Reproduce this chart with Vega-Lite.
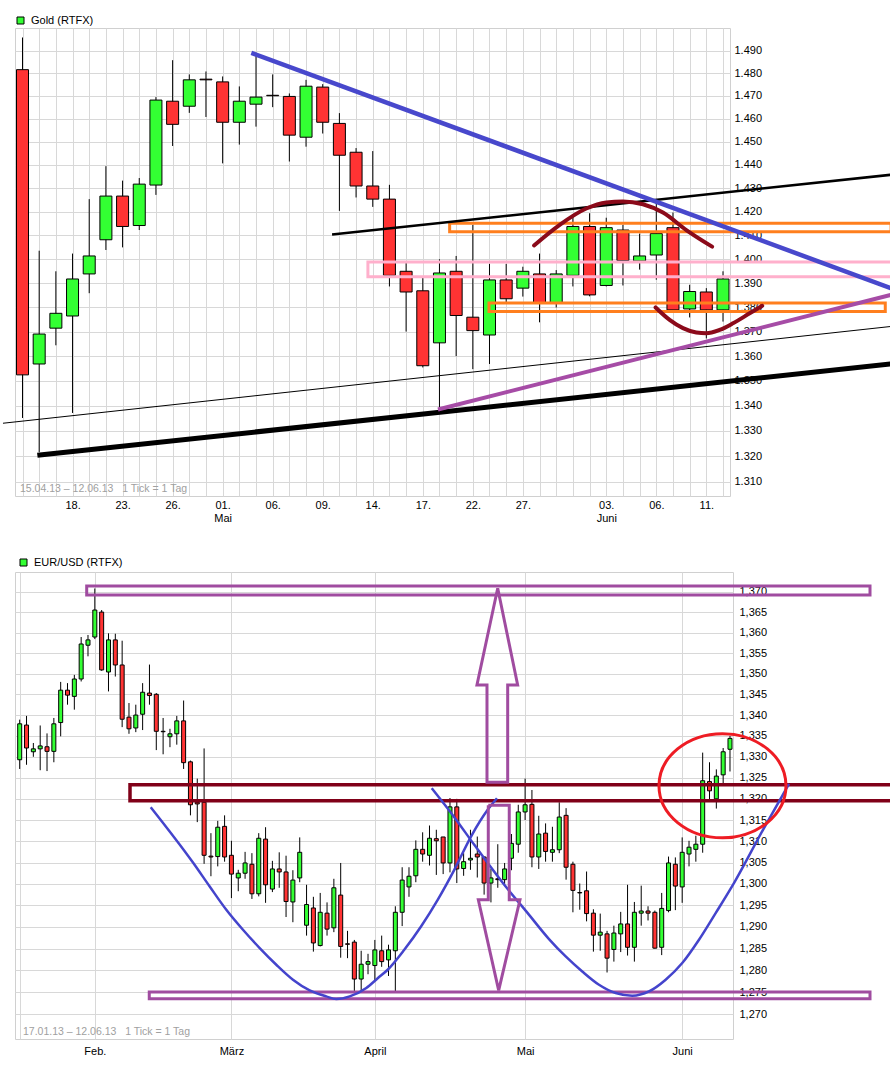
{
  "$schema": "https://vega.github.io/schema/vega-lite/v6.json",
  "background": "white",
  "padding": {"top": 14, "left": 0, "right": 0, "bottom": 0},
  "bounds": "flush",
  "spacing": 76,
  "resolve": {"scale": {"color": "independent"}, "legend": {"color": "independent"}},
  "datasets": {
    "gold": [
      {"i":0,"o":1481.5,"h":1495.8,"l":1335.1,"c":1352.4},
      {"i":1,"o":1356.8,"h":1403.5,"l":1321.6,"c":1369.0},
      {"i":2,"o":1371.4,"h":1394.9,"l":1364.4,"c":1377.5},
      {"i":3,"o":1376.4,"h":1402.3,"l":1337.1,"c":1391.7},
      {"i":4,"o":1393.8,"h":1425.3,"l":1385.8,"c":1401.3},
      {"i":5,"o":1408.1,"h":1439.4,"l":1403.8,"c":1426.6},
      {"i":6,"o":1426.6,"h":1433.2,"l":1404.9,"c":1413.7},
      {"i":7,"o":1414.1,"h":1434.3,"l":1412.2,"c":1431.7},
      {"i":8,"o":1431.3,"h":1469.4,"l":1427.1,"c":1468.1},
      {"i":9,"o":1467.6,"h":1485.7,"l":1448.1,"c":1457.5},
      {"i":10,"o":1465.4,"h":1479.4,"l":1462.5,"c":1477.0},
      {"i":11,"o":1477.3,"h":1480.7,"l":1460.7,"c":1477.0},
      {"i":12,"o":1476.1,"h":1478.5,"l":1440.6,"c":1458.4},
      {"i":13,"o":1458.4,"h":1474.1,"l":1448.7,"c":1467.6},
      {"i":14,"o":1466.3,"h":1489.0,"l":1456.5,"c":1469.4},
      {"i":15,"o":1470.2,"h":1479.4,"l":1465.0,"c":1470.0},
      {"i":16,"o":1469.7,"h":1471.0,"l":1441.4,"c":1452.8},
      {"i":17,"o":1451.9,"h":1477.0,"l":1447.8,"c":1474.2},
      {"i":18,"o":1473.8,"h":1475.1,"l":1453.5,"c":1458.4},
      {"i":19,"o":1457.9,"h":1462.4,"l":1420.3,"c":1444.1},
      {"i":20,"o":1445.4,"h":1447.2,"l":1426.0,"c":1430.9},
      {"i":21,"o":1430.9,"h":1445.9,"l":1422.0,"c":1425.3},
      {"i":22,"o":1425.3,"h":1431.4,"l":1388.6,"c":1393.2},
      {"i":23,"o":1394.9,"h":1398.5,"l":1370.0,"c":1386.3},
      {"i":24,"o":1386.8,"h":1392.1,"l":1355.4,"c":1356.1},
      {"i":25,"o":1365.4,"h":1399.9,"l":1338.2,"c":1394.2},
      {"i":26,"o":1394.9,"h":1401.3,"l":1360.0,"c":1376.6},
      {"i":27,"o":1375.9,"h":1414.4,"l":1354.7,"c":1370.4},
      {"i":28,"o":1368.6,"h":1398.0,"l":1356.8,"c":1391.3},
      {"i":29,"o":1391.3,"h":1398.0,"l":1381.7,"c":1383.5},
      {"i":30,"o":1387.9,"h":1396.8,"l":1384.4,"c":1394.9},
      {"i":31,"o":1393.8,"h":1402.3,"l":1373.8,"c":1381.9},
      {"i":32,"o":1381.9,"h":1395.4,"l":1379.9,"c":1393.8},
      {"i":33,"o":1393.2,"h":1418.8,"l":1388.6,"c":1413.7},
      {"i":34,"o":1413.7,"h":1419.3,"l":1384.5,"c":1385.1},
      {"i":35,"o":1389.0,"h":1417.4,"l":1388.6,"c":1413.2},
      {"i":36,"o":1412.2,"h":1414.4,"l":1389.0,"c":1399.4},
      {"i":37,"o":1399.2,"h":1410.7,"l":1395.6,"c":1401.3},
      {"i":38,"o":1401.7,"h":1423.9,"l":1391.4,"c":1410.7},
      {"i":39,"o":1413.2,"h":1419.6,"l":1378.6,"c":1378.9},
      {"i":40,"o":1379.3,"h":1389.3,"l":1375.8,"c":1386.5},
      {"i":41,"o":1386.3,"h":1387.9,"l":1367.2,"c":1378.9},
      {"i":42,"o":1378.9,"h":1394.9,"l":1374.1,"c":1391.7}
    ],
    "gann": [
      {"id":"blue","k":0,"i":13.72,"v":1488.96},{"id":"blue","k":1,"i":52.07,"v":1387.9},
      {"id":"thin","k":0,"i":-1.17,"v":1333.0},{"id":"thin","k":1,"i":52.07,"v":1372.1},
      {"id":"thick","k":0,"i":0.89,"v":1320.3},{"id":"thick","k":1,"i":52.07,"v":1356.8},
      {"id":"med","k":0,"i":18.56,"v":1410.3},{"id":"med","k":1,"i":52.07,"v":1435.7},
      {"id":"purple","k":0,"i":24.91,"v":1338.5},{"id":"purple","k":1,"i":52.07,"v":1385.1},
      {"id":"arc1","k":0,"i":30.67,"v":1405.7},{"id":"arc1","k":1,"i":32.21,"v":1414.4},{"id":"arc1","k":2,"i":33.8,"v":1421.3},{"id":"arc1","k":3,"i":35.0,"v":1423.9},{"id":"arc1","k":4,"i":36.0,"v":1424.3},{"id":"arc1","k":5,"i":37.2,"v":1423.1},{"id":"arc1","k":6,"i":38.4,"v":1419.6},{"id":"arc1","k":7,"i":39.8,"v":1412.2},{"id":"arc1","k":8,"i":41.35,"v":1405.2},
      {"id":"arc2","k":0,"i":37.96,"v":1379.9},{"id":"arc2","k":1,"i":38.8,"v":1374.8},{"id":"arc2","k":2,"i":39.6,"v":1371.4},{"id":"arc2","k":3,"i":40.4,"v":1369.6},{"id":"arc2","k":4,"i":41.0,"v":1369.3},{"id":"arc2","k":5,"i":41.8,"v":1370.7},{"id":"arc2","k":6,"i":42.6,"v":1373.4},{"id":"arc2","k":7,"i":43.6,"v":1377.5},{"id":"arc2","k":8,"i":44.35,"v":1380.6},
      {"id":"pink","k":0,"i":52.07,"v":1398.8},{"id":"pink","k":1,"i":20.71,"v":1398.8},{"id":"pink","k":2,"i":20.71,"v":1392.6},{"id":"pink","k":3,"i":52.07,"v":1392.6}
    ],
    "grect": [
      {"id":"o1","i":25.61,"i2":52.08,"v":1411.5,"v2":1415.1},
      {"id":"o2","i":27.97,"i2":51.73,"v":1378.2,"v2":1381.7}
    ],
    "gleg": [{"name":"Gold (RTFX)"}],
    "gcap": [{"t":"15.04.13 – 12.06.13 \u00a0 1 Tick = 1 Tag"}],
    "eur": [
      {"i":0,"o":1.3293,"h":1.3389,"l":1.3271,"c":1.3379},
      {"i":1,"o":1.3376,"h":1.3398,"l":1.3281,"c":1.3321},
      {"i":2,"o":1.3312,"h":1.3333,"l":1.33,"c":1.3319},
      {"i":3,"o":1.3319,"h":1.3375,"l":1.3268,"c":1.3326},
      {"i":4,"o":1.3324,"h":1.3356,"l":1.3266,"c":1.3313},
      {"i":5,"o":1.3313,"h":1.3393,"l":1.3287,"c":1.3379},
      {"i":6,"o":1.3382,"h":1.348,"l":1.3349,"c":1.346},
      {"i":7,"o":1.346,"h":1.3477,"l":1.3425,"c":1.3448},
      {"i":8,"o":1.3445,"h":1.3497,"l":1.3413,"c":1.3487},
      {"i":9,"o":1.3487,"h":1.3589,"l":1.3481,"c":1.3572},
      {"i":10,"o":1.3569,"h":1.3594,"l":1.3542,"c":1.3582},
      {"i":11,"o":1.3589,"h":1.3708,"l":1.3584,"c":1.3655},
      {"i":12,"o":1.365,"h":1.3655,"l":1.3507,"c":1.3509},
      {"i":13,"o":1.3504,"h":1.3598,"l":1.3457,"c":1.3582},
      {"i":14,"o":1.3582,"h":1.3597,"l":1.3493,"c":1.3521},
      {"i":15,"o":1.3521,"h":1.358,"l":1.3371,"c":1.339},
      {"i":16,"o":1.3395,"h":1.3429,"l":1.3355,"c":1.3367},
      {"i":17,"o":1.3369,"h":1.3425,"l":1.3359,"c":1.34},
      {"i":18,"o":1.3402,"h":1.3477,"l":1.3364,"c":1.3455},
      {"i":19,"o":1.3453,"h":1.3522,"l":1.3425,"c":1.3447},
      {"i":20,"o":1.345,"h":1.3453,"l":1.3316,"c":1.3361},
      {"i":21,"o":1.3361,"h":1.3393,"l":1.3306,"c":1.336},
      {"i":22,"o":1.3348,"h":1.3367,"l":1.3323,"c":1.3355},
      {"i":23,"o":1.3355,"h":1.3398,"l":1.3329,"c":1.3386},
      {"i":24,"o":1.3386,"h":1.3435,"l":1.3271,"c":1.3286},
      {"i":25,"o":1.3288,"h":1.3291,"l":1.3161,"c":1.3186},
      {"i":26,"o":1.3192,"h":1.3248,"l":1.3145,"c":1.3188},
      {"i":27,"o":1.3192,"h":1.332,"l":1.3047,"c":1.3067},
      {"i":28,"o":1.3065,"h":1.3119,"l":1.3018,"c":1.3063},
      {"i":29,"o":1.3064,"h":1.3148,"l":1.3041,"c":1.3133},
      {"i":30,"o":1.3135,"h":1.3161,"l":1.3052,"c":1.3063},
      {"i":31,"o":1.3067,"h":1.3101,"l":1.2967,"c":1.3023},
      {"i":32,"o":1.3014,"h":1.3033,"l":1.2983,"c":1.3025},
      {"i":33,"o":1.3025,"h":1.3075,"l":1.3012,"c":1.3049},
      {"i":34,"o":1.3046,"h":1.3072,"l":1.2965,"c":1.2977},
      {"i":35,"o":1.2977,"h":1.3119,"l":1.2971,"c":1.3107},
      {"i":36,"o":1.3105,"h":1.3133,"l":1.2956,"c":1.2998},
      {"i":37,"o":1.2988,"h":1.3054,"l":1.2981,"c":1.3035},
      {"i":38,"o":1.3035,"h":1.3074,"l":1.2991,"c":1.3028},
      {"i":39,"o":1.3028,"h":1.3066,"l":1.2923,"c":1.2959},
      {"i":40,"o":1.2958,"h":1.3032,"l":1.2911,"c":1.3009},
      {"i":41,"o":1.3014,"h":1.3109,"l":1.3004,"c":1.3074},
      {"i":42,"o":1.2904,"h":1.2998,"l":1.288,"c":1.2952},
      {"i":43,"o":1.2944,"h":1.297,"l":1.2843,"c":1.2863},
      {"i":44,"o":1.2857,"h":1.2979,"l":1.2855,"c":1.2934},
      {"i":45,"o":1.2932,"h":1.2957,"l":1.288,"c":1.2895},
      {"i":46,"o":1.2898,"h":1.3012,"l":1.2888,"c":1.2991},
      {"i":47,"o":1.2974,"h":1.3049,"l":1.2829,"c":1.2855},
      {"i":48,"o":1.2861,"h":1.2891,"l":1.2828,"c":1.286},
      {"i":49,"o":1.2865,"h":1.287,"l":1.2752,"c":1.278},
      {"i":50,"o":1.278,"h":1.2845,"l":1.275,"c":1.2814},
      {"i":51,"o":1.2814,"h":1.2838,"l":1.2791,"c":1.282},
      {"i":52,"o":1.2811,"h":1.287,"l":1.2777,"c":1.2847},
      {"i":53,"o":1.2845,"h":1.288,"l":1.2808,"c":1.282},
      {"i":54,"o":1.2824,"h":1.2859,"l":1.2787,"c":1.2847},
      {"i":55,"o":1.2845,"h":1.2948,"l":1.2752,"c":1.2934},
      {"i":56,"o":1.2934,"h":1.3039,"l":1.2902,"c":1.3009},
      {"i":57,"o":1.2993,"h":1.3039,"l":1.297,"c":1.3018},
      {"i":58,"o":1.3019,"h":1.3102,"l":1.3004,"c":1.3081},
      {"i":59,"o":1.3081,"h":1.3121,"l":1.3052,"c":1.307},
      {"i":60,"o":1.3067,"h":1.3137,"l":1.3043,"c":1.3107},
      {"i":61,"o":1.3106,"h":1.3127,"l":1.3021,"c":1.3101},
      {"i":62,"o":1.311,"h":1.311,"l":1.3023,"c":1.3049},
      {"i":63,"o":1.3049,"h":1.3202,"l":1.3027,"c":1.3181},
      {"i":64,"o":1.3181,"h":1.32,"l":1.3002,"c":1.3035},
      {"i":65,"o":1.3036,"h":1.3072,"l":1.3019,"c":1.3052},
      {"i":66,"o":1.3056,"h":1.3127,"l":1.3033,"c":1.306},
      {"i":67,"o":1.307,"h":1.3111,"l":1.3015,"c":1.3063},
      {"i":68,"o":1.3063,"h":1.3064,"l":1.2975,"c":1.3002},
      {"i":69,"o":1.3002,"h":1.3035,"l":1.2957,"c":1.3014},
      {"i":70,"o":1.3012,"h":1.3093,"l":1.2991,"c":1.301},
      {"i":71,"o":1.301,"h":1.3049,"l":1.2998,"c":1.3035},
      {"i":72,"o":1.306,"h":1.3117,"l":1.3032,"c":1.3095},
      {"i":73,"o":1.3093,"h":1.3186,"l":1.3073,"c":1.3169},
      {"i":74,"o":1.3169,"h":1.3248,"l":1.315,"c":1.3186},
      {"i":75,"o":1.3187,"h":1.3221,"l":1.3039,"c":1.3063},
      {"i":76,"o":1.3063,"h":1.316,"l":1.3035,"c":1.3117},
      {"i":77,"o":1.3119,"h":1.3142,"l":1.3052,"c":1.3076},
      {"i":78,"o":1.3074,"h":1.3134,"l":1.3052,"c":1.308},
      {"i":79,"o":1.308,"h":1.3192,"l":1.3072,"c":1.3157},
      {"i":80,"o":1.3161,"h":1.3178,"l":1.301,"c":1.3039},
      {"i":81,"o":1.3046,"h":1.3052,"l":1.2934,"c":1.2985},
      {"i":82,"o":1.298,"h":1.3001,"l":1.294,"c":1.2979},
      {"i":83,"o":1.2984,"h":1.3029,"l":1.2913,"c":1.2931},
      {"i":84,"o":1.2932,"h":1.2941,"l":1.2843,"c":1.2881},
      {"i":85,"o":1.2881,"h":1.2931,"l":1.2845,"c":1.2888},
      {"i":86,"o":1.2884,"h":1.2891,"l":1.2795,"c":1.2828},
      {"i":87,"o":1.2848,"h":1.2903,"l":1.282,"c":1.2886},
      {"i":88,"o":1.2884,"h":1.2935,"l":1.2842,"c":1.2907},
      {"i":89,"o":1.2907,"h":1.2998,"l":1.2834,"c":1.2853},
      {"i":90,"o":1.2853,"h":1.2958,"l":1.282,"c":1.2934},
      {"i":91,"o":1.2932,"h":1.2996,"l":1.2903,"c":1.2937},
      {"i":92,"o":1.2937,"h":1.2948,"l":1.2915,"c":1.2932},
      {"i":93,"o":1.2934,"h":1.2938,"l":1.285,"c":1.2851},
      {"i":94,"o":1.2853,"h":1.2979,"l":1.2835,"c":1.2943},
      {"i":95,"o":1.2938,"h":1.3064,"l":1.2934,"c":1.3049},
      {"i":96,"o":1.3046,"h":1.3062,"l":1.2939,"c":1.2995},
      {"i":97,"o":1.2993,"h":1.3109,"l":1.2956,"c":1.3074},
      {"i":98,"o":1.307,"h":1.3101,"l":1.3041,"c":1.3086},
      {"i":99,"o":1.3081,"h":1.3113,"l":1.3052,"c":1.3093},
      {"i":100,"o":1.3093,"h":1.331,"l":1.3073,"c":1.3243},
      {"i":101,"o":1.3241,"h":1.3287,"l":1.3198,"c":1.3219},
      {"i":102,"o":1.32,"h":1.327,"l":1.3177,"c":1.3254},
      {"i":103,"o":1.3257,"h":1.3321,"l":1.3237,"c":1.3312},
      {"i":104,"o":1.3318,"h":1.335,"l":1.3265,"c":1.3344}
    ],
    "eann": [
      {"id":"dred","k":0,"i":127.6,"v":1.32335},{"id":"dred","k":1,"i":16.15,"v":1.32335},{"id":"dred","k":2,"i":16.15,"v":1.31955},{"id":"dred","k":3,"i":127.6,"v":1.31955},
      {"id":"u1","k":0,"i":19.18,"v":1.31803},{"id":"u1","k":1,"i":25.37,"v":1.305},{"id":"u1","k":2,"i":27.82,"v":1.2994},{"id":"u1","k":3,"i":30.25,"v":1.29398},{"id":"u1","k":4,"i":32.69,"v":1.28935},{"id":"u1","k":5,"i":35.14,"v":1.28512},{"id":"u1","k":6,"i":37.57,"v":1.28128},{"id":"u1","k":7,"i":40.01,"v":1.27784},{"id":"u1","k":8,"i":42.46,"v":1.27539},{"id":"u1","k":9,"i":44.89,"v":1.27402},{"id":"u1","k":10,"i":46.35,"v":1.27342},{"id":"u1","k":11,"i":48.32,"v":1.27402},{"id":"u1","k":12,"i":50.75,"v":1.27594},{"id":"u1","k":13,"i":52.46,"v":1.27823},{"id":"u1","k":14,"i":53.88,"v":1.28013},{"id":"u1","k":15,"i":56.31,"v":1.28473},{"id":"u1","k":16,"i":58.76,"v":1.29011},{"id":"u1","k":17,"i":61.2,"v":1.2963},{"id":"u1","k":18,"i":63.63,"v":1.3033},{"id":"u1","k":19,"i":66.08,"v":1.3111},{"id":"u1","k":20,"i":68.52,"v":1.3174},{"id":"u1","k":21,"i":69.88,"v":1.32016},
      {"id":"u2","k":0,"i":60.32,"v":1.32253},{"id":"u2","k":1,"i":63.63,"v":1.31567},{"id":"u2","k":2,"i":66.56,"v":1.30915},{"id":"u2","k":3,"i":70.95,"v":1.29979},{"id":"u2","k":4,"i":74.38,"v":1.29321},{"id":"u2","k":5,"i":77.5,"v":1.2872},{"id":"u2","k":6,"i":79.94,"v":1.28319},{"id":"u2","k":7,"i":82.37,"v":1.27974},{"id":"u2","k":8,"i":84.82,"v":1.27669},{"id":"u2","k":9,"i":87.26,"v":1.27479},{"id":"u2","k":10,"i":89.69,"v":1.27418},{"id":"u2","k":11,"i":92.14,"v":1.27516},{"id":"u2","k":12,"i":94.58,"v":1.27784},{"id":"u2","k":13,"i":97.01,"v":1.28167},{"id":"u2","k":14,"i":99.46,"v":1.28704},{"id":"u2","k":15,"i":101.9,"v":1.29321},{"id":"u2","k":16,"i":104.58,"v":1.30019},{"id":"u2","k":17,"i":108.83,"v":1.31268},{"id":"u2","k":18,"i":112.64,"v":1.32355},
      {"id":"up","k":0,"i":69.99,"v":1.37084},{"id":"up","k":1,"i":72.91,"v":1.34727},{"id":"up","k":2,"i":71.45,"v":1.34727},{"id":"up","k":3,"i":71.45,"v":1.32396},{"id":"up","k":4,"i":68.42,"v":1.32396},{"id":"up","k":5,"i":68.42,"v":1.34727},{"id":"up","k":6,"i":66.95,"v":1.34727},{"id":"up","k":7,"i":69.99,"v":1.37084},
      {"id":"down","k":0,"i":68.61,"v":1.31851},{"id":"down","k":1,"i":71.68,"v":1.31851},{"id":"down","k":2,"i":71.68,"v":1.2963},{"id":"down","k":3,"i":73.25,"v":1.2963},{"id":"down","k":4,"i":70.13,"v":1.27539},{"id":"down","k":5,"i":67.15,"v":1.2963},{"id":"down","k":6,"i":68.61,"v":1.2963},{"id":"down","k":7,"i":68.61,"v":1.31851},
      {"id":"ell","k":0,"i":102.9,"v":1.32311}
    ],
    "erect": [
      {"id":"p1","i":9.81,"i2":124.5,"v":1.3692,"v2":1.3714},
      {"id":"p2","i":18.97,"i2":124.5,"v":1.27349,"v2":1.27502}
    ],
    "eleg": [{"name":"EUR/USD (RTFX)"}],
    "ecap": [{"t":"17.01.13 – 12.06.13 \u00a0 1 Tick = 1 Tag"}]
  },
  "vconcat": [
    {
      "width": 715,
      "height": 468,
      "layer": [
        {
          "data": {"name": "gold"},
          "mark": {"type": "rule", "color": "black", "strokeWidth": 1},
          "encoding": {
            "x": {"field": "i", "type": "quantitative", "scale": {"domain": [-0.45, 42.42], "nice": false, "zero": false, "padding": 0},
              "axis": {"orient": "bottom", "title": null, "tickCount": 500, "values": [0,1,2,3,4,5,6,7,8,9,10,11,12,13,14,15,16,17,18,19,20,21,22,23,24,25,26,27,28,29,30,31,32,33,34,35,36,37,38,39,40,41,42],
                "labelExpr": "datum.value==3?'18.':datum.value==6?'23.':datum.value==9?'26.':datum.value==12?['01.','Mai']:datum.value==15?'06.':datum.value==18?'09.':datum.value==21?'14.':datum.value==24?'17.':datum.value==27?'22.':datum.value==30?'27.':datum.value==35?['03.','Juni']:datum.value==38?'06.':datum.value==41?'11.':''",
                "grid": true, "ticks": false, "domain": false, "labelPadding": 3, "labelOverlap": false, "labelFlush": false, "labelBound": false, "labelLineHeight": 13, "labelBaseline": "top"}},
            "y": {"field": "l", "type": "quantitative", "scale": {"type": "log", "domain": [1304.34, 1500.05], "nice": false, "zero": false},
              "axis": {"orient": "right", "title": null, "tickCount": 500, "values": [1310,1320,1330,1340,1350,1360,1370,1380,1390,1400,1410,1420,1430,1440,1450,1460,1470,1480,1490],
                "labelExpr": "replace(format(datum.value, ',.0f'), ',', '.')",
                "grid": true, "ticks": false, "domain": false, "labelPadding": 4, "labelOverlap": false, "labelBound": false}},
            "y2": {"field": "h"}
          }
        },
        {
          "data": {"name": "gold"},
          "mark": {"type": "bar", "width": 12, "stroke": "black", "strokeWidth": 1},
          "encoding": {
            "x": {"field": "i", "type": "quantitative", "scale": {"domain": [-0.45, 42.42], "nice": false, "zero": false, "padding": 0}},
            "y": {"field": "o", "type": "quantitative", "scale": {"type": "log", "domain": [1304.34, 1500.05], "nice": false, "zero": false}},
            "y2": {"field": "c"},
            "fill": {"condition": {"test": "datum.c >= datum.o", "value": "#33ff33"}, "value": "#ff3333"}
          }
        },
        {
          "data": {"name": "grect"},
          "mark": {"type": "rect", "filled": false, "stroke": "#ff7f1e", "strokeWidth": 3},
          "encoding": {
            "x": {"field": "i", "type": "quantitative", "scale": {"domain": [-0.45, 42.42], "nice": false, "zero": false, "padding": 0}},
            "x2": {"field": "i2"},
            "y": {"field": "v", "type": "quantitative", "scale": {"type": "log", "domain": [1304.34, 1500.05], "nice": false, "zero": false}},
            "y2": {"field": "v2"}
          }
        },
        {
          "data": {"name": "gann"},
          "transform": [{"filter": "datum.id == 'pink'"}],
          "mark": {"type": "line", "color": "#ffb0cc", "strokeWidth": 3},
          "encoding": {
            "x": {"field": "i", "type": "quantitative", "scale": {"domain": [-0.45, 42.42], "nice": false, "zero": false, "padding": 0}},
            "y": {"field": "v", "type": "quantitative", "scale": {"type": "log", "domain": [1304.34, 1500.05], "nice": false, "zero": false}},
            "order": {"field": "k"}
          }
        },
        {
          "data": {"name": "gann"},
          "transform": [{"filter": "datum.id == 'thin'"}],
          "mark": {"type": "line", "color": "black", "strokeWidth": 1},
          "encoding": {
            "x": {"field": "i", "type": "quantitative", "scale": {"domain": [-0.45, 42.42], "nice": false, "zero": false, "padding": 0}},
            "y": {"field": "v", "type": "quantitative", "scale": {"type": "log", "domain": [1304.34, 1500.05], "nice": false, "zero": false}},
            "order": {"field": "k"}
          }
        },
        {
          "data": {"name": "gann"},
          "transform": [{"filter": "datum.id == 'thick'"}],
          "mark": {"type": "line", "color": "black", "strokeWidth": 5},
          "encoding": {
            "x": {"field": "i", "type": "quantitative", "scale": {"domain": [-0.45, 42.42], "nice": false, "zero": false, "padding": 0}},
            "y": {"field": "v", "type": "quantitative", "scale": {"type": "log", "domain": [1304.34, 1500.05], "nice": false, "zero": false}},
            "order": {"field": "k"}
          }
        },
        {
          "data": {"name": "gann"},
          "transform": [{"filter": "datum.id == 'med'"}],
          "mark": {"type": "line", "color": "black", "strokeWidth": 2.5},
          "encoding": {
            "x": {"field": "i", "type": "quantitative", "scale": {"domain": [-0.45, 42.42], "nice": false, "zero": false, "padding": 0}},
            "y": {"field": "v", "type": "quantitative", "scale": {"type": "log", "domain": [1304.34, 1500.05], "nice": false, "zero": false}},
            "order": {"field": "k"}
          }
        },
        {
          "data": {"name": "gann"},
          "transform": [{"filter": "datum.id == 'purple'"}],
          "mark": {"type": "line", "color": "#a64ca6", "strokeWidth": 4},
          "encoding": {
            "x": {"field": "i", "type": "quantitative", "scale": {"domain": [-0.45, 42.42], "nice": false, "zero": false, "padding": 0}},
            "y": {"field": "v", "type": "quantitative", "scale": {"type": "log", "domain": [1304.34, 1500.05], "nice": false, "zero": false}},
            "order": {"field": "k"}
          }
        },
        {
          "data": {"name": "gann"},
          "transform": [{"filter": "datum.id == 'blue'"}],
          "mark": {"type": "line", "color": "#4848cc", "strokeWidth": 4.5},
          "encoding": {
            "x": {"field": "i", "type": "quantitative", "scale": {"domain": [-0.45, 42.42], "nice": false, "zero": false, "padding": 0}},
            "y": {"field": "v", "type": "quantitative", "scale": {"type": "log", "domain": [1304.34, 1500.05], "nice": false, "zero": false}},
            "order": {"field": "k"}
          }
        },
        {
          "data": {"name": "gann"},
          "transform": [{"filter": "datum.id == 'arc1' || datum.id == 'arc2'"}],
          "mark": {"type": "line", "color": "#8b0a1a", "strokeWidth": 4, "interpolate": "monotone", "strokeCap": "round"},
          "encoding": {
            "x": {"field": "i", "type": "quantitative", "scale": {"domain": [-0.45, 42.42], "nice": false, "zero": false, "padding": 0}},
            "y": {"field": "v", "type": "quantitative", "scale": {"type": "log", "domain": [1304.34, 1500.05], "nice": false, "zero": false}},
            "detail": {"field": "id"},
            "order": {"field": "k"}
          }
        },
        {
          "data": {"name": "gcap"},
          "mark": {"type": "text", "align": "left", "baseline": "middle", "color": "#a0a0a0", "fontSize": 10.5},
          "encoding": {
            "x": {"datum": -0.15, "type": "quantitative", "scale": {"domain": [-0.45, 42.42], "nice": false, "zero": false, "padding": 0}},
            "y": {"datum": 1307.1, "type": "quantitative", "scale": {"type": "log", "domain": [1304.34, 1500.05], "nice": false, "zero": false}},
            "text": {"field": "t"}
          }
        },
        {
          "data": {"name": "gleg"},
          "mark": {"type": "rect"},
          "encoding": {
            "x": {"datum": 0, "type": "quantitative", "scale": {"domain": [-0.45, 42.42], "nice": false, "zero": false, "padding": 0}},
            "x2": {"datum": 0},
            "y": {"datum": 1400, "type": "quantitative", "scale": {"type": "log", "domain": [1304.34, 1500.05], "nice": false, "zero": false}},
            "y2": {"datum": 1400},
            "color": {"field": "name", "type": "nominal", "scale": {"range": ["#33ff33"]},
              "legend": {"title": null, "orient": "none", "legendX": 0, "legendY": -13, "symbolType": "square", "symbolSize": 49, "symbolStrokeColor": "black", "symbolStrokeWidth": 1, "labelFontSize": 11, "labelColor": "black", "labelOffset": 5, "padding": 0}}
          }
        }
      ]
    },
    {
      "width": 718,
      "height": 467,
      "layer": [
        {
          "data": {"name": "eur"},
          "mark": {"type": "rule", "color": "black", "strokeWidth": 1},
          "encoding": {
            "x": {"field": "i", "type": "quantitative", "scale": {"domain": [-0.688, 104.44], "nice": false, "zero": false, "padding": 0},
              "axis": {"orient": "bottom", "title": null, "tickCount": 500, "values": [0, 11, 31, 52, 74, 97],
                "labelExpr": "datum.value==11?'Feb.':datum.value==31?'März':datum.value==52?'April':datum.value==74?'Mai':datum.value==97?'Juni':''",
                "grid": true, "ticks": false, "domain": false, "labelPadding": 6, "labelOverlap": false, "labelFlush": false, "labelBound": false}},
            "y": {"field": "l", "type": "quantitative", "scale": {"type": "log", "domain": [1.26432, 1.37485], "nice": false, "zero": false},
              "axis": {"orient": "right", "title": null, "tickCount": 500, "values": [1.27,1.275,1.28,1.285,1.29,1.295,1.3,1.305,1.31,1.315,1.32,1.325,1.33,1.335,1.34,1.345,1.35,1.355,1.36,1.365,1.37],
                "labelExpr": "replace(format(datum.value, '.3f'), '.', ',')",
                "grid": true, "ticks": false, "domain": false, "labelPadding": 6, "labelOverlap": false, "labelBound": false}},
            "y2": {"field": "h"}
          }
        },
        {
          "data": {"name": "eur"},
          "mark": {"type": "bar", "width": 4, "stroke": "black", "strokeWidth": 1},
          "encoding": {
            "x": {"field": "i", "type": "quantitative", "scale": {"domain": [-0.688, 104.44], "nice": false, "zero": false, "padding": 0}},
            "y": {"field": "o", "type": "quantitative", "scale": {"type": "log", "domain": [1.26432, 1.37485], "nice": false, "zero": false}},
            "y2": {"field": "c"},
            "fill": {"condition": {"test": "datum.c >= datum.o", "value": "#33ff33"}, "value": "#ff3333"}
          }
        },
        {
          "data": {"name": "erect"},
          "mark": {"type": "rect", "filled": false, "stroke": "#a04ca0", "strokeWidth": 3},
          "encoding": {
            "x": {"field": "i", "type": "quantitative", "scale": {"domain": [-0.688, 104.44], "nice": false, "zero": false, "padding": 0}},
            "x2": {"field": "i2"},
            "y": {"field": "v", "type": "quantitative", "scale": {"type": "log", "domain": [1.26432, 1.37485], "nice": false, "zero": false}},
            "y2": {"field": "v2"}
          }
        },
        {
          "data": {"name": "eann"},
          "transform": [{"filter": "datum.id == 'dred'"}],
          "mark": {"type": "line", "color": "#800018", "strokeWidth": 3.5},
          "encoding": {
            "x": {"field": "i", "type": "quantitative", "scale": {"domain": [-0.688, 104.44], "nice": false, "zero": false, "padding": 0}},
            "y": {"field": "v", "type": "quantitative", "scale": {"type": "log", "domain": [1.26432, 1.37485], "nice": false, "zero": false}},
            "order": {"field": "k"}
          }
        },
        {
          "data": {"name": "eann"},
          "transform": [{"filter": "datum.id == 'u1' || datum.id == 'u2'"}],
          "mark": {"type": "line", "color": "#4444cc", "strokeWidth": 2.5, "interpolate": "monotone"},
          "encoding": {
            "x": {"field": "i", "type": "quantitative", "scale": {"domain": [-0.688, 104.44], "nice": false, "zero": false, "padding": 0}},
            "y": {"field": "v", "type": "quantitative", "scale": {"type": "log", "domain": [1.26432, 1.37485], "nice": false, "zero": false}},
            "detail": {"field": "id"},
            "order": {"field": "k"}
          }
        },
        {
          "data": {"name": "eann"},
          "transform": [{"filter": "datum.id == 'up' || datum.id == 'down'"}],
          "mark": {"type": "line", "color": "#a04ca0", "strokeWidth": 3},
          "encoding": {
            "x": {"field": "i", "type": "quantitative", "scale": {"domain": [-0.688, 104.44], "nice": false, "zero": false, "padding": 0}},
            "y": {"field": "v", "type": "quantitative", "scale": {"type": "log", "domain": [1.26432, 1.37485], "nice": false, "zero": false}},
            "detail": {"field": "id"},
            "order": {"field": "k"}
          }
        },
        {
          "data": {"name": "eann"},
          "transform": [{"filter": "datum.id == 'ell'"}],
          "mark": {"type": "point", "filled": false, "stroke": "#ee1c24", "strokeWidth": 3, "opacity": 1, "size": 16129,
            "shape": "M -1 0 A 1 0.82 0 1 1 1 0 A 1 0.82 0 1 1 -1 0 Z"},
          "encoding": {
            "x": {"field": "i", "type": "quantitative", "scale": {"domain": [-0.688, 104.44], "nice": false, "zero": false, "padding": 0}},
            "y": {"field": "v", "type": "quantitative", "scale": {"type": "log", "domain": [1.26432, 1.37485], "nice": false, "zero": false}}
          }
        },
        {
          "data": {"name": "ecap"},
          "mark": {"type": "text", "align": "left", "baseline": "middle", "color": "#a0a0a0", "fontSize": 10.5},
          "encoding": {
            "x": {"datum": 0.48, "type": "quantitative", "scale": {"domain": [-0.688, 104.44], "nice": false, "zero": false, "padding": 0}},
            "y": {"datum": 1.26582, "type": "quantitative", "scale": {"type": "log", "domain": [1.26432, 1.37485], "nice": false, "zero": false}},
            "text": {"field": "t"}
          }
        },
        {
          "data": {"name": "eleg"},
          "mark": {"type": "rect"},
          "encoding": {
            "x": {"datum": 0, "type": "quantitative", "scale": {"domain": [-0.688, 104.44], "nice": false, "zero": false, "padding": 0}},
            "x2": {"datum": 0},
            "y": {"datum": 1.3, "type": "quantitative", "scale": {"type": "log", "domain": [1.26432, 1.37485], "nice": false, "zero": false}},
            "y2": {"datum": 1.3},
            "color": {"field": "name", "type": "nominal", "scale": {"range": ["#33ff33"]},
              "legend": {"title": null, "orient": "none", "legendX": 3, "legendY": -15, "symbolType": "square", "symbolSize": 49, "symbolStrokeColor": "black", "symbolStrokeWidth": 1, "labelFontSize": 11, "labelColor": "black", "labelOffset": 5, "padding": 0}}
          }
        }
      ]
    }
  ],
  "config": {
    "font": "Liberation Sans",
    "view": {"stroke": "#d0d0d0"},
    "axis": {"labelFont": "Liberation Sans", "labelFontSize": 11, "labelColor": "#000000", "gridColor": "#d8d8d8", "gridWidth": 1},
    "legend": {"labelFont": "Liberation Sans"}
  }
}
